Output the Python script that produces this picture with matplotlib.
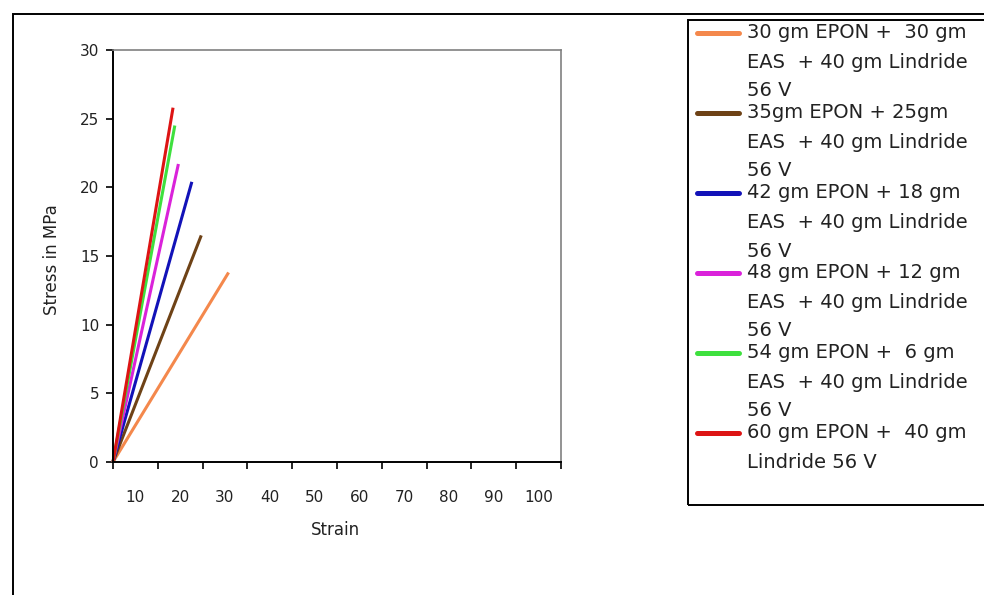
import matplotlib
matplotlib.use("Agg")
import matplotlib.pyplot as plt
from matplotlib.lines import Line2D
from matplotlib.patches import Rectangle

# ---- data: end point of each stress-strain line (all start at 0, 0) ----
mixes = [
    ["30 gm EPON +  30 gm", "EAS  + 40 gm Lindride", "56 V"],
    ["35gm EPON + 25gm", "EAS  + 40 gm Lindride", "56 V"],
    ["42 gm EPON + 18 gm", "EAS  + 40 gm Lindride", "56 V"],
    ["48 gm EPON + 12 gm", "EAS  + 40 gm Lindride", "56 V"],
    ["54 gm EPON +  6 gm", "EAS  + 40 gm Lindride", "56 V"],
    ["60 gm EPON +  40 gm", "Lindride 56 V"],
]
colors = ["#F4884C", "#6E4216", "#1212B8", "#DA22DA", "#3EE03E", "#DD1414"]
strain_start = [0, 0, 0, 0, 0, 0]
stress_start = [0, 0, 0, 0, 0, 0]
strain_end = [25.8, 19.7, 17.6, 14.6, 13.8, 13.4]
stress_end = [13.8, 16.5, 20.4, 21.7, 24.5, 25.8]

x_tick_labels = ["10", "20", "30", "40", "50", "60", "70", "80", "90", "100"]
y_ticks = [0, 5, 10, 15, 20, 25, 30]

W, H = 984, 595


def fx(px):
    return px / W


def fy(py):
    return 1 - py / H


def main():
    plt.rcParams["font.family"] = ["DejaVu Sans"]
    fig = plt.figure(figsize=(9.84, 5.95), dpi=100)

    # outer chart frame (runs off the right and bottom edges)
    fig.patches.append(Rectangle((fx(13), -0.1), 1.2, fy(14) + 0.1,
                                 transform=fig.transFigure, fill=False,
                                 ec="black", lw=1.4, zorder=0))

    ax = fig.add_axes([fx(113), fy(462), fx(561) - fx(113), fy(50) - fy(462)])
    lines = []
    for x0, y0, x1, y1, c in zip(strain_start, stress_start,
                                 strain_end, stress_end, colors):
        ln, = ax.plot([x0, x1], [y0, y1], color=c, lw=2.2,
                      solid_capstyle="butt", clip_on=False)
        lines.append(ln)

    ax.set_xlim(0, 100)
    ax.set_ylim(0, 30)
    ax.set_yticks(y_ticks)
    ax.tick_params(axis="y", direction="out", length=5, width=1.2,
                   labelsize=11, pad=5, labelcolor="#222222")
    # category style x axis: marks on the boundaries, labels in between
    ax.set_xticks(range(0, 101, 10))
    ax.set_xticklabels([])
    ax.set_xticks([5 + 10 * i for i in range(10)], minor=True)
    ax.set_xticklabels(x_tick_labels, minor=True)
    ax.tick_params(axis="x", which="major", direction="out", length=5,
                   width=1.2)
    ax.tick_params(axis="x", which="minor", length=0, labelsize=11, pad=20,
                   labelcolor="#222222")

    for s in ["left", "bottom"]:
        ax.spines[s].set_color("black")
        ax.spines[s].set_linewidth(1.4)
    for s in ["top", "right"]:
        ax.spines[s].set_color("#808080")
        ax.spines[s].set_linewidth(1.2)

    fig.text(fx(52), fy(260), "Stress in MPa", rotation=90, fontsize=12,
             ha="center", va="center", color="#222222")
    fig.text(fx(335), fy(530), "Strain", fontsize=12,
             ha="center", va="center", color="#222222")

    # legend box, drawn by hand so each key sits on the first text line
    fig.patches.append(Rectangle((fx(688), fy(505)), 1.0, fy(20) - fy(505),
                                 transform=fig.transFigure, fill=False,
                                 ec="black", lw=1.4, zorder=0))
    for k, (label, ln) in enumerate(zip(mixes, lines)):
        top = 33 + 80 * k
        fig.add_artist(Line2D([fx(697), fx(739)], [fy(top), fy(top)],
                              transform=fig.transFigure,
                              color=ln.get_color(), lw=3.6,
                              solid_capstyle="round"))
        for j, part in enumerate(label):
            fig.text(fx(747), fy(top + 29 * j), part, fontsize=14,
                     ha="left", va="center", color="#222222")

    fig.savefig("out.png", dpi=100)


if __name__ == "__main__":
    main()
